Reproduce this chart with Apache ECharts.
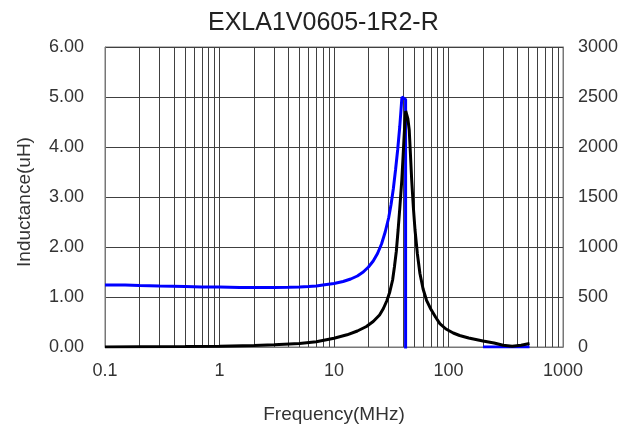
<!DOCTYPE html>
<html>
<head>
<meta charset="utf-8">
<script src="https://cdn.jsdelivr.net/npm/echarts@6/dist/echarts.min.js"></script>
<style>html,body{margin:0;padding:0;background:#fff}#c{width:625px;height:432px}</style>
</head>
<body>
<div id="c"></div>
<script>
const titleText = 'EXLA1V0605-1R2-R';
const xName = 'Frequency(MHz)';
const yLeftName = 'Inductance(uH)';
// Inductance series (blue), frequency in MHz, inductance in uH ('-' = gap)
const indFreq = [0.1, 0.15, 0.2, 0.3, 0.5, 0.7, 1, 1.5, 2, 3, 4, 5, 6, 7, 8, 10, 12, 14, 16, 18, 20, 22, 24, 26, 28, 30, 31.5, 33, 34.5, 36, 37.5, 38.5, 39.2, 42.2, 42.3, 42.5, 200, 300, 400, 510];
const indVal  = [1.24, 1.24, 1.23, 1.22, 1.21, 1.20, 1.20, 1.19, 1.19, 1.19, 1.195, 1.20, 1.21, 1.22, 1.24, 1.27, 1.31, 1.36, 1.42, 1.50, 1.60, 1.72, 1.87, 2.06, 2.30, 2.58, 2.85, 3.17, 3.55, 3.95, 4.40, 4.75, 5.00, 4.95, -60, '-', 0, 0, 0, 0];
// Impedance series (black), ohm on right axis
const impFreq = [0.1, 0.2, 0.5, 1, 2, 3, 5, 7, 10, 13, 16, 19.2, 22, 25, 27, 29, 30.7, 32.5, 33.7, 35, 36.3, 37.5, 39.1, 40, 40.8, 41.7, 42.3, 42.6, 43.2, 44.2, 45.4, 46.5, 47.7, 49.3, 51, 53.5, 56.3, 60, 64.3, 70, 77, 84, 95, 110, 125, 150, 200, 250, 300, 360, 430, 510];
const impVal  = [1, 2, 4, 8, 15, 23, 36, 52, 88, 122, 160, 205, 255, 320, 385, 465, 550, 670, 800, 955, 1170, 1380, 1670, 1880, 2070, 2270, 2360, 2380, 2360, 2280, 2170, 1930, 1670, 1400, 1170, 930, 735, 580, 467, 380, 300, 234, 180, 140, 115, 90, 60, 40, 17, 8, 18, 35];
const xTicks = [0.1, 1, 10, 100, 1000];
const yLeftTicks = [0, 1, 2, 3, 4, 5, 6];
const yRightTicks = [0, 500, 1000, 1500, 2000, 2500, 3000];

const minorGrid = [];
[0.1, 1, 10, 100].forEach(d => { for (let m = 2; m <= 9; m++) minorGrid.push(+(d * m).toPrecision(3)); });

const gridColor = '#404040';
const font = 'Liberation Sans, Arial, sans-serif';
const chart = echarts.init(document.getElementById('c'), null, {renderer: 'canvas'});
chart.setOption({
  animation: false,
  title: {text: titleText, left: 203, top: 6, textStyle: {fontFamily: font, fontSize: 25, fontWeight: 'normal', color: '#222'}},
  grid: {left: 105, right: 62, top: 47, bottom: 85, show: true, borderColor: '#777', borderWidth: 1},
  xAxis: {
    type: 'log', logBase: 10, min: xTicks[0], max: xTicks[xTicks.length - 1],
    name: xName, nameLocation: 'middle', nameGap: 58,
    nameTextStyle: {fontFamily: font, fontSize: 19, color: '#333'},
    axisLine: {show: true, lineStyle: {color: '#777'}},
    axisTick: {show: false},
    axisLabel: {fontFamily: font, fontSize: 18, color: '#333', margin: 15, formatter: v => String(v)},
    splitLine: {show: true, lineStyle: {color: gridColor, width: 1}}
  },
  yAxis: [{
    type: 'value', min: yLeftTicks[0], max: yLeftTicks[yLeftTicks.length - 1], interval: 1,
    name: yLeftName, nameLocation: 'middle', nameGap: 71,
    nameTextStyle: {fontFamily: font, fontSize: 19, color: '#333', padding: [0, 10, 0, 0]},
    axisLine: {show: true, lineStyle: {color: '#777'}},
    axisTick: {show: false},
    axisLabel: {fontFamily: font, fontSize: 18, color: '#333', margin: 21, formatter: v => v.toFixed(2)},
    splitLine: {show: true, lineStyle: {color: gridColor, width: 1}}
  }, {
    type: 'value', min: yRightTicks[0], max: yRightTicks[yRightTicks.length - 1], interval: 500,
    axisLine: {show: true, lineStyle: {color: '#777'}},
    axisTick: {show: false},
    axisLabel: {fontFamily: font, fontSize: 18, color: '#333', margin: 15, formatter: v => String(v)},
    splitLine: {show: false}
  }],
  series: [{
    type: 'line', name: 'Inductance', yAxisIndex: 0, symbol: 'none', clip: true, connectNulls: false,
    data: indFreq.map((f, i) => [f, indVal[i]]),
    lineStyle: {color: '#0000FF', width: 3}, z: 3,
    markLine: {silent: true, symbol: 'none', label: {show: false},
      lineStyle: {color: gridColor, width: 1, type: 'solid'},
      data: minorGrid.map(v => ({xAxis: v})), z: 1}
  }, {
    type: 'line', name: 'Impedance', yAxisIndex: 1, symbol: 'none', clip: true,
    data: impFreq.map((f, i) => [f, impVal[i]]),
    lineStyle: {color: '#000000', width: 3}, z: 4
  }]
});
</script>
</body>
</html>
